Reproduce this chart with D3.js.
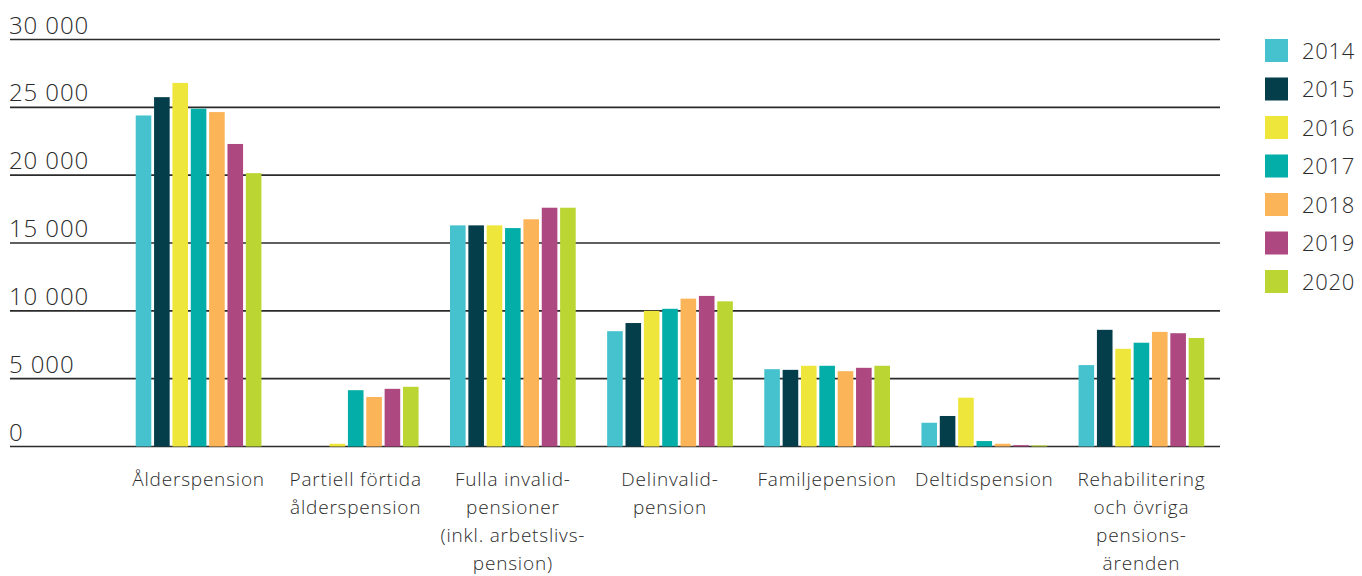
<!DOCTYPE html>
<html>
<head>
<meta charset="utf-8">
<script src="https://cdn.jsdelivr.net/npm/d3@7"></script>
<style>
  body { margin: 0; background: #fff; }
  text { font-family: "Open Sans", Roboto, sans-serif; fill: #2b2b2b; }
</style>
</head>
<body>
<div id="chart"></div>
<script>
const categories = [
    ["Ålderspension"],
    ["Partiell förtida", "ålderspension"],
    ["Fulla invalid-", "pensioner", "(inkl. arbetslivs-", "pension)"],
    ["Delinvalid-", "pension"],
    ["Familjepension"],
    ["Deltidspension"],
    ["Rehabilitering", "och övriga", "pensions-", "ärenden"]
];
const years = ["2014", "2015", "2016", "2017", "2018", "2019", "2020"];
const colors = ["#45c2cd", "#033e4a", "#efe63c", "#02aea7", "#fbb458", "#ae4880", "#bbd632"];

// values per category, one per year
const alder     = [24400, 25750, 26800, 24900, 24650, 22300, 20150];
const partiell  = [0, 0, 200, 4150, 3650, 4250, 4400];
const fulla     = [16300, 16300, 16300, 16100, 16750, 17600, 17600];
const delinval  = [8500, 9100, 10000, 10150, 10900, 11100, 10700];
const familje   = [5700, 5650, 5950, 5950, 5550, 5800, 5950];
const deltid    = [1750, 2250, 3600, 400, 200, 100, 80];
const rehab     = [6000, 8600, 7200, 7650, 8450, 8350, 8000];
const values = [alder, partiell, fulla, delinval, familje, deltid, rehab];

const yTicks = [0, 5000, 10000, 15000, 20000, 25000, 30000];

const W = 1362, H = 576;
const svg = d3.select('#chart').append('svg')
    .attr('width', W)
    .attr('height', H);

const x0 = d3.scaleBand()
    .domain(d3.range(categories.length))
    .range([120, 1220])
    .paddingInner(0.2)
    .paddingOuter(0.1);

const x1 = d3.scaleBand()
    .domain(years)
    .range([0, x0.bandwidth()])
    .paddingInner(0.15);

const y = d3.scaleLinear()
    .domain([0, 30000])
    .range([446.5, 39.5]);

const fmt = v => d3.format(',')(v).replace(/,/g, ' ');

// gridlines
svg.append('g')
    .selectAll('line')
    .data(yTicks)
    .join('line')
    .attr('x1', 10)
    .attr('x2', 1220)
    .attr('y1', d => y(d))
    .attr('y2', d => y(d))
    .attr('stroke', '#2b2b2b')
    .attr('stroke-width', 1.6);

// tick labels sit above the lines
svg.append('g')
    .selectAll('text')
    .data(yTicks)
    .join('text')
    .attr('x', 9)
    .attr('y', d => y(d) - 6)
    .style('font-size', '24px')
    .style('font-weight', 300)
    .style('letter-spacing', '0.9px')
    .text(d => fmt(d));

// bars
const groups = svg.append('g')
    .selectAll('g')
    .data(values)
    .join('g')
    .attr('transform', (d, i) => `translate(${x0(i)},0)`);

groups.selectAll('rect')
    .data(d => d.map((v, j) => ({ year: years[j], value: v, color: colors[j] })))
    .join('rect')
    .filter(d => d.value > 0)
    .attr('x', d => x1(d.year))
    .attr('width', x1.bandwidth())
    .attr('y', d => y(d.value))
    .attr('height', d => y(0) - y(d.value))
    .attr('fill', d => d.color);

// category labels
const labels = svg.append('g')
    .selectAll('text')
    .data(categories)
    .join('text')
    .attr('text-anchor', 'middle')
    .attr('x', (d, i) => x0(i) + x0.bandwidth() / 2)
    .attr('y', 486)
    .style('font-size', '19px')
    .style('font-weight', 300)
    .style('letter-spacing', '0.8px');

labels.selectAll('tspan')
    .data(d => d)
    .join('tspan')
    .attr('x', function() { return this.parentNode.getAttribute('x'); })
    .attr('dy', (d, i) => i === 0 ? 0 : 28)
    .text(d => d);

// legend
const legend = svg.append('g')
    .attr('transform', 'translate(1265,39)')
    .selectAll('g')
    .data(years)
    .join('g')
    .attr('transform', (d, i) => `translate(0,${i * 38.5})`);

legend.append('rect')
    .attr('width', 23)
    .attr('height', 23)
    .attr('fill', (d, i) => colors[i]);

legend.append('text')
    .attr('x', 37)
    .attr('y', 19.5)
    .style('font-size', '22px')
    .style('font-weight', 300)
    .style('letter-spacing', '0.7px')
    .text(d => d);
</script>
</body>
</html>
